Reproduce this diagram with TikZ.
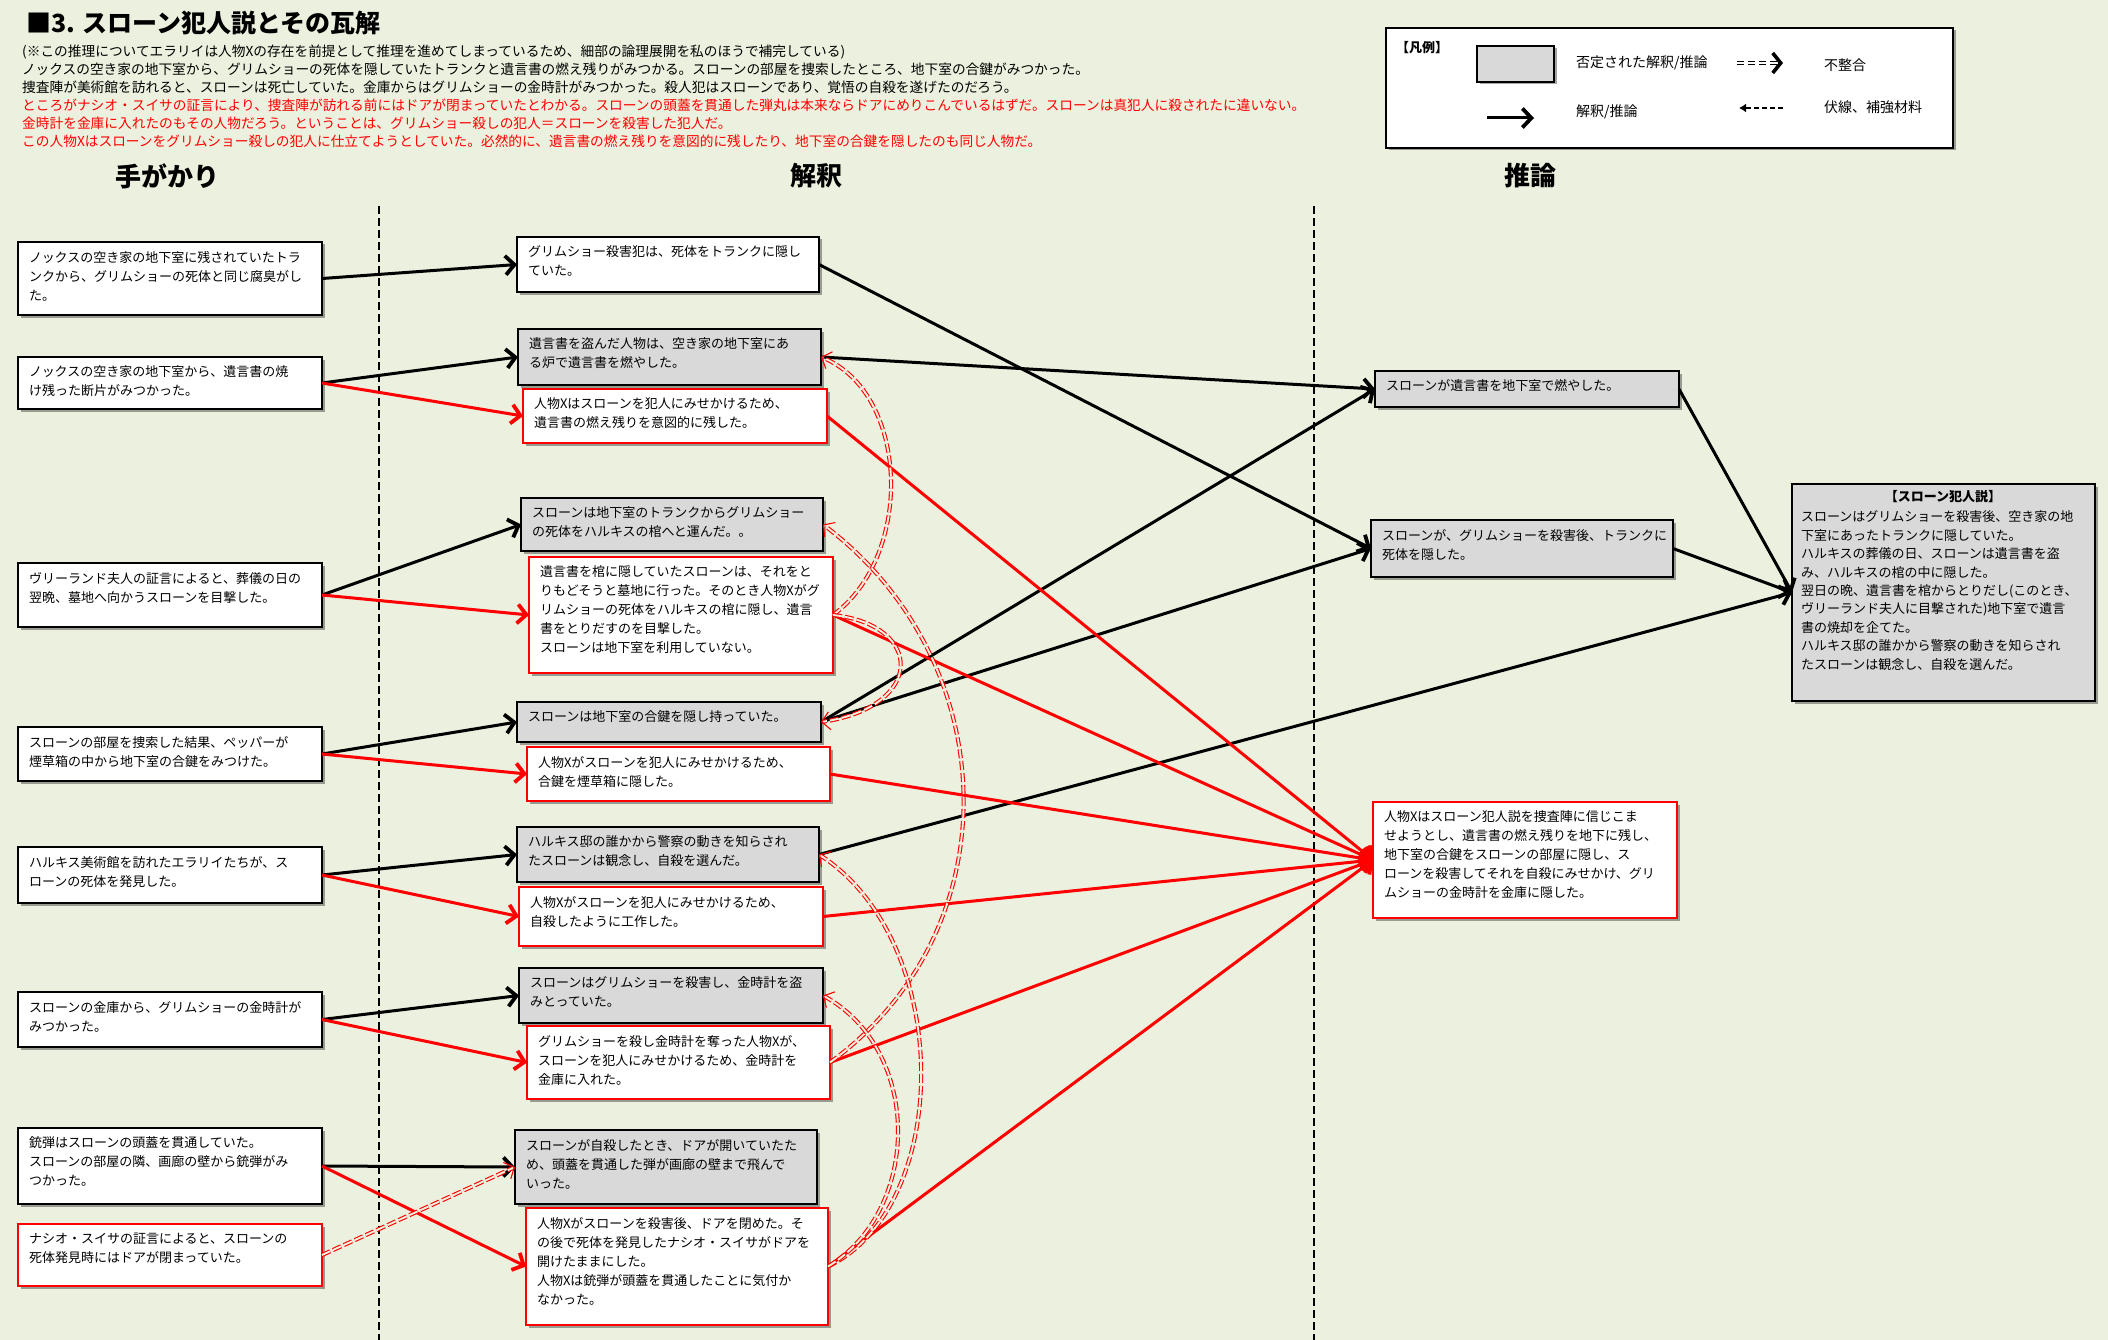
\documentclass[tikz,border=0pt]{standalone}
\usepackage{fontspec}
\setmainfont{Noto Sans CJK JP}
\usetikzlibrary{arrows.meta,shadows}
\definecolor{bgc}{RGB}{235,241,222}
\definecolor{boxgray}{RGB}{217,217,217}
\definecolor{xred}{RGB}{255,0,0}
\newcommand\mybx[7]{%
  \node[#1, anchor=north west, minimum width=#5pt-#3pt, minimum height=#6pt-#4pt] (#2) at (#3,#4) {};
  \node[txt, anchor=north west] (#2t) at ([xshift=11pt,yshift=-9pt]#2.north west) {#7};
}
\tikzset{
  box/.style={draw=black, line width=2.2pt, fill=white, inner sep=0pt, outer sep=0pt,
    drop shadow={shadow xshift=2.5pt, shadow yshift=-2.5pt, opacity=0.35, fill=black}},
  gbox/.style={box, fill=boxgray},
  rbox/.style={box, draw=xred},
  txt/.style={inner sep=0pt, outer sep=0pt, align=left, font=\fontsize{13pt}{19pt}\selectfont},
  hdr/.style={inner sep=0pt, anchor=base west, font=\fontsize{13.7pt}{18pt}\selectfont},
  colh/.style={inner sep=0pt, font=\fontsize{26pt}{30pt}\selectfont\bfseries},
  ltxt/.style={inner sep=0pt, anchor=west, font=\fontsize{14pt}{16pt}\selectfont},
  ka/.style={draw=black, line width=3pt, -{Straight Barb[length=9pt,width=19pt,line width=3.8pt]}},
  ra/.style={ka, draw=xred},
  inc/.style={draw=xred, line width=1.1pt, double=bgc, double distance=1.9pt,
    dash pattern=on 9pt off 3pt, -{Straight Barb[length=8pt,width=18pt]}},
  vdash/.style={draw=black, line width=1.2pt, dash pattern=on 8pt off 4pt},
}
\begin{document}
\begin{tikzpicture}[x=1pt,y=-1pt]
\fill[bgc] (0,0) rectangle (2108,1340);
\useasboundingbox (0,0) rectangle (2108,1340);

% title and header text
\node[inner sep=0pt, anchor=base west, font=\fontsize{25pt}{28pt}\selectfont\bfseries] (title) at (26,33) {■3. スローン犯人説とその瓦解};
\node[hdr] (h1) at (22,57) {(※この推理についてエラリイは人物Xの存在を前提として推理を進めてしまっているため、細部の論理展開を私のほうで補完している)};
\node[hdr] (h2) at (22,75) {ノックスの空き家の地下室から、グリムショーの死体を隠していたトランクと遺言書の燃え残りがみつかる。スローンの部屋を捜索したところ、地下室の合鍵がみつかった。};
\node[hdr] (h3) at (22,93) {捜査陣が美術館を訪れると、スローンは死亡していた。金庫からはグリムショーの金時計がみつかった。殺人犯はスローンであり、覚悟の自殺を遂げたのだろう。};
\node[hdr, text=xred] (h4) at (22,110.5) {ところがナシオ・スイサの証言により、捜査陣が訪れる前にはドアが閉まっていたとわかる。スローンの頭蓋を貫通した弾丸は本来ならドアにめりこんでいるはずだ。スローンは真犯人に殺されたに違いない。};
\node[hdr, text=xred] (h5) at (22,128.5) {金時計を金庫に入れたのもその人物だろう。ということは、グリムショー殺しの犯人＝スローンを殺害した犯人だ。};
\node[hdr, text=xred] (h6) at (22,146.5) {この人物Xはスローンをグリムショー殺しの犯人に仕立てようとしていた。必然的に、遺言書の燃え残りを意図的に残したり、地下室の合鍵を隠したのも同じ人物だ。};

% column headers
\node[colh] (c1) at (167,176) {手がかり};
\node[colh] (c2) at (816,176) {解釈};
\node[colh] (c3) at (1530,176) {推論};

% dashed column separators
\coordinate (d1t) at (379,206); \coordinate (d1b) at (379,1340);
\coordinate (d2t) at (1314,206); \coordinate (d2b) at (1314,1340);
\draw[vdash] (d1t) -- (d1b);
\draw[vdash] (d2t) -- (d2b);

% legend
\node[box, line width=1.3pt, anchor=north west, minimum width=567pt, minimum height=120pt] (leg) at (1386,28) {};
\node[ltxt, font=\fontsize{13pt}{15pt}\selectfont\bfseries] (legT) at (1396,48) {【凡例】};
\node[gbox, line width=2.4pt, anchor=north west, minimum width=77pt, minimum height=36pt] (legG) at (1477,46) {};
\node[ltxt] (leg1) at (1576,63) {否定された解釈/推論};
\node[ltxt] (leg2) at (1576,112) {解釈/推論};
\node[ltxt] (leg3) at (1824,65) {不整合};
\node[ltxt] (leg4) at (1824,107) {伏線、補強材料};
\coordinate (la1) at (1487,118); \coordinate (la2) at (1534,118);
\draw[ka] (la1) -- (la2);
\coordinate (lb1) at (1737,63); \coordinate (lb2) at (1783,63);
\draw[draw=black, line width=1.4pt, double=white, double distance=1.6pt, dash pattern=on 7pt off 4pt,
  -{Straight Barb[length=8pt,width=20pt,line width=3.6pt]}] (lb1) -- (lb2);
\coordinate (lc1) at (1783,108); \coordinate (lc2) at (1739,108);
\draw[draw=black, line width=2pt, dash pattern=on 5pt off 3pt, -{Latex[length=7pt,width=9pt]}] (lc1) -- (lc2);

% clue column
\mybx{box}{L1}{18}{242}{322}{315}{ノックスの空き家の地下室に残されていたトラ\\ンクから、グリムショーの死体と同じ腐臭がし\\た。}
\mybx{box}{L2}{18}{357}{322}{409}{ノックスの空き家の地下室から、遺言書の焼\\け残った断片がみつかった。}
\mybx{box}{L3}{18}{563}{322}{627}{ヴリーランド夫人の証言によると、葬儀の日の\\翌晩、墓地へ向かうスローンを目撃した。}
\mybx{box}{L4}{18}{727}{322}{781}{スローンの部屋を捜索した結果、ペッパーが\\煙草箱の中から地下室の合鍵をみつけた。}
\mybx{box}{L5}{18}{847}{322}{903}{ハルキス美術館を訪れたエラリイたちが、ス\\ローンの死体を発見した。}
\mybx{box}{L6}{18}{992}{322}{1047}{スローンの金庫から、グリムショーの金時計が\\みつかった。}
\mybx{box}{L7}{18}{1128}{322}{1204}{銃弾はスローンの頭蓋を貫通していた。\\スローンの部屋の隣、画廊の壁から銃弾がみ\\つかった。}
\mybx{rbox}{L8}{18}{1224}{322}{1286}{ナシオ・スイサの証言によると、スローンの\\死体発見時にはドアが閉まっていた。}

% interpretation column
\mybx{box}{M1}{517}{237}{819}{292}{グリムショー殺害犯は、死体をトランクに隠し\\ていた。}
\mybx{gbox}{M2}{518}{329}{821}{385}{遺言書を盗んだ人物は、空き家の地下室にあ\\る炉で遺言書を燃やした。}
\mybx{rbox}{M3}{523}{389}{827}{443}{人物Xはスローンを犯人にみせかけるため、\\遺言書の燃え残りを意図的に残した。}
\mybx{gbox}{M4}{521}{498}{823}{551}{スローンは地下室のトランクからグリムショー\\の死体をハルキスの棺へと運んだ。。}
\mybx{rbox}{M5}{529}{557}{833}{673}{遺言書を棺に隠していたスローンは、それをと\\りもどそうと墓地に行った。そのとき人物Xがグ\\リムショーの死体をハルキスの棺に隠し、遺言\\書をとりだすのを目撃した。\\スローンは地下室を利用していない。}
\mybx{gbox}{M6}{517}{702}{821}{742}{スローンは地下室の合鍵を隠し持っていた。}
\mybx{rbox}{M7}{527}{747}{830}{801}{人物Xがスローンを犯人にみせかけるため、\\合鍵を煙草箱に隠した。}
\mybx{gbox}{M8}{517}{827}{819}{882}{ハルキス邸の誰かから警察の動きを知らされ\\たスローンは観念し、自殺を選んだ。}
\mybx{rbox}{M9}{519}{887}{823}{946}{人物Xがスローンを犯人にみせかけるため、\\自殺したように工作した。}
\mybx{gbox}{M10}{519}{968}{823}{1023}{スローンはグリムショーを殺害し、金時計を盗\\みとっていた。}
\mybx{rbox}{M11}{527}{1026}{830}{1099}{グリムショーを殺し金時計を奪った人物Xが、\\スローンを犯人にみせかけるため、金時計を\\金庫に入れた。}
\mybx{gbox}{M12}{515}{1130}{817}{1204}{スローンが自殺したとき、ドアが開いていたた\\め、頭蓋を貫通した弾が画廊の壁まで飛んで\\いった。}
\mybx{rbox}{M13}{526}{1208}{828}{1325}{人物Xがスローンを殺害後、ドアを閉めた。そ\\の後で死体を発見したナシオ・スイサがドアを\\開けたままにした。\\人物Xは銃弾が頭蓋を貫通したことに気付か\\なかった。}

% inference column
\mybx{gbox}{R1}{1375}{371}{1679}{407}{スローンが遺言書を地下室で燃やした。}
\mybx{gbox}{R2}{1371}{520}{1673}{577}{スローンが、グリムショーを殺害後、トランクに\\死体を隠した。}
\mybx{rbox}{R3}{1373}{802}{1677}{918}{人物Xはスローン犯人説を捜査陣に信じこま\\せようとし、遺言書の燃え残りを地下に残し、\\地下室の合鍵をスローンの部屋に隠し、ス\\ローンを殺害してそれを自殺にみせかけ、グリ\\ムショーの金時計を金庫に隠した。}

% final theory
\node[gbox, anchor=north west, minimum width=303pt, minimum height=217pt] (F) at (1792,484) {};
\node[txt, font=\fontsize{13pt}{18.4pt}\selectfont\bfseries, anchor=center] (Fh) at (1943,497) {【スローン犯人説】};
\node[txt, font=\fontsize{13pt}{18.4pt}\selectfont, anchor=north west] (Fb) at (1801,511) {スローンはグリムショーを殺害後、空き家の地\\下室にあったトランクに隠していた。\\ハルキスの葬儀の日、スローンは遺言書を盗\\み、ハルキスの棺の中に隠した。\\翌日の晩、遺言書を棺からとりだし(このとき、\\ヴリーランド夫人に目撃された)地下室で遺言\\書の焼却を企てた。\\ハルキス邸の誰かから警察の動きを知らされ\\たスローンは観念し、自殺を選んだ。};

% clue -> interpretation
\draw[ka] (L1.east) -- (M1.west);
\draw[ka] (L2.east) -- (M2.west);
\draw[ra] (L2.east) -- (M3.west);
\draw[ka] (L3.east) -- (M4.west);
\draw[ra] (L3.east) -- (M5.west);
\draw[ka] (L4.east) -- (M6.west);
\draw[ra] (L4.east) -- (M7.west);
\draw[ka] (L5.east) -- (M8.west);
\draw[ra] (L5.east) -- (M9.west);
\draw[ka] (L6.east) -- (M10.west);
\draw[ra] (L6.east) -- (M11.west);
\draw[ka] (L7.east) -- (M12.west);
\draw[ra] (L7.east) -- (M13.west);
\draw[inc] (L8.east) -- (M12.west);

% interpretation -> inference
\draw[ka] (M1.east) -- (R2.west);
\draw[ka] (M2.east) -- (R1.west);
\draw[ka] (M6.east) -- (R1.west);
\draw[ka] (M6.east) -- (R2.west);
\draw[ka] (M8.east) -- (F.west);
\draw[ka] (R1.east) -- (F.west);
\draw[ka] (R2.east) -- (F.west);
\draw[ra] (M3.east) -- (R3.west);
\draw[ra] (M5.east) -- (R3.west);
\draw[ra] (M7.east) -- (R3.west);
\draw[ra] (M9.east) -- (R3.west);
\draw[ra] (M11.east) -- (R3.west);
\draw[ra] (M13.east) -- (R3.west);

% inconsistencies
\draw[inc] (M5.east) .. controls +(82,-60) and +(88,35) .. (M2.east);
\draw[inc] (M5.east) .. controls +(92,10) and +(104,-15) .. (M6.east);
\draw[inc] (M11.east) .. controls +(185,-135) and +(180,135) .. (M4.east);
\draw[inc] (M13.east) .. controls +(125,-60) and +(135,87) .. (M8.east);
\draw[inc] (M13.east) .. controls +(93,-56) and +(100,55) .. (M10.east);
\end{tikzpicture}
\end{document}
